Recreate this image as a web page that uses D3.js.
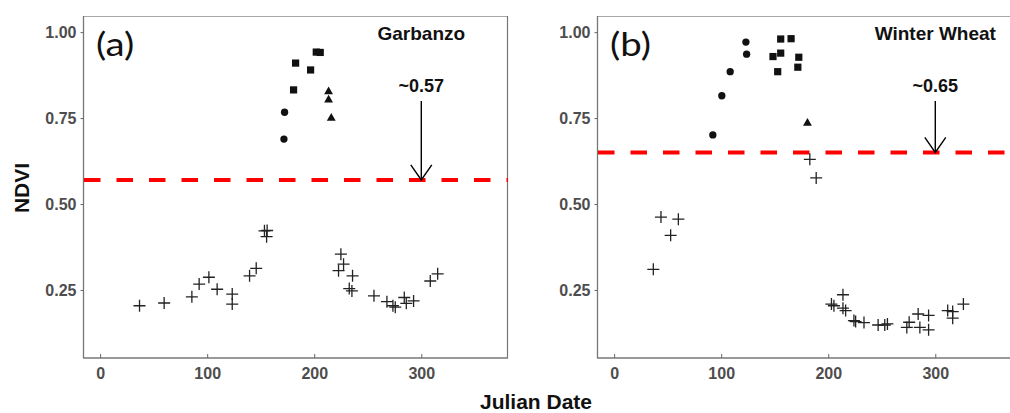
<!DOCTYPE html>
<html>
<head>
<meta charset="utf-8">
<script src="https://cdn.jsdelivr.net/npm/d3@7"></script>
<style>
  html, body { margin: 0; padding: 0; background: #fff; }
  svg { display: block; }
</style>
</head>
<body>
<svg id="chart" width="1010" height="413"></svg>
<script>
// Julian date / NDVI pairs for each growth stage group

// Garbanzo
const garbanzoEarly = [[172.3, 0.767], [171.7, 0.689]];
const garbanzoPeak = [[180.7, 0.832], [182.6, 0.910], [196.6, 0.890], [201.9, 0.942], [205.6, 0.941]];
const garbanzoLate = [[213.4, 0.827], [213.4, 0.803], [215.9, 0.750]];
const garbanzoOff = [
  [36.8, 0.204], [59.8, 0.212], [85.7, 0.230], [92.5, 0.267], [101.6, 0.287], [109.3, 0.252],
  [123.4, 0.238], [123.4, 0.209], [139.6, 0.291], [145.8, 0.313], [153.5, 0.422], [156.0, 0.423],
  [155.5, 0.405], [224.9, 0.354], [222.7, 0.306], [227.4, 0.325], [235.8, 0.291], [232.7, 0.254],
  [235.2, 0.247], [255.8, 0.233], [267.9, 0.216], [273.5, 0.204], [275.7, 0.200], [284.1, 0.228],
  [286.0, 0.211], [292.8, 0.218], [308.4, 0.276], [315.3, 0.297]
];

// Winter wheat
const wheatEarly = [[92.2, 0.701], [100.6, 0.815], [108.4, 0.885], [123.1, 0.971], [123.75, 0.936]];
const wheatPeak = [[148.4, 0.929], [152.8, 0.885], [155.6, 0.939], [155.6, 0.980], [165.3, 0.981], [172.5, 0.927], [171.6, 0.898]];
const wheatLate = [[180.6, 0.735]];
const wheatOff = [
  [182.8, 0.630], [188.75, 0.576], [36.6, 0.310], [43.75, 0.462], [52.8, 0.409], [60.0, 0.456],
  [203.0, 0.209], [205.3, 0.204], [213.75, 0.236], [213.75, 0.197], [216.25, 0.190], [224.0, 0.161],
  [225.6, 0.158], [233.4, 0.155], [246.6, 0.148], [252.8, 0.148], [255.3, 0.151], [273.4, 0.141],
  [275.6, 0.156], [284.0, 0.180], [285.6, 0.141], [293.75, 0.176], [293.75, 0.134], [311.6, 0.190],
  [316.25, 0.187], [316.25, 0.168], [326.25, 0.209]
];

const thresholds = [0.57, 0.65];
const thresholdLabels = ["~0.57", "~0.65"];
const panelTitles = ["Garbanzo", "Winter Wheat"];
const panelTags = ["(a)", "(b)"];
const xTicks = [0, 100, 200, 300];
const yTicks = [0.25, 0.50, 0.75, 1.00];

const panels = [
  { title: panelTitles[0], tag: panelTags[0], threshold: thresholds[0], label: thresholdLabels[0],
    early: garbanzoEarly, peak: garbanzoPeak, late: garbanzoLate, off: garbanzoOff, left: 83, right: 508 },
  { title: panelTitles[1], tag: panelTags[1], threshold: thresholds[1], label: thresholdLabels[1],
    early: wheatEarly, peak: wheatPeak, late: wheatLate, off: wheatOff, left: 597, right: 1022 }
];

const svg = d3.select("#chart");
const plotTop = 16, plotBottom = 358;
const y = d3.scaleLinear().domain([0.052, 1.047]).range([plotBottom, plotTop]);
const sans = "'Liberation Sans', Arial, sans-serif";
const markColor = "#111";

panels.forEach(p => {
  const x = d3.scaleLinear().domain([-16, 381]).range([p.left, p.right]);
  const g = svg.append("g");

  // panel frame
  g.append("line").attr("x1", p.left).attr("x2", p.right).attr("y1", plotTop + 0.5).attr("y2", plotTop + 0.5)
    .attr("stroke", "#a8a8a8").attr("stroke-width", 1.2);
  g.append("line").attr("x1", p.right - 0.5).attr("x2", p.right - 0.5).attr("y1", plotTop).attr("y2", plotBottom)
    .attr("stroke", "#777").attr("stroke-width", 1.2);
  g.append("line").attr("x1", p.left + 0.5).attr("x2", p.left + 0.5).attr("y1", plotTop).attr("y2", plotBottom)
    .attr("stroke", "#777").attr("stroke-width", 1.3);
  g.append("line").attr("x1", p.left).attr("x2", p.right).attr("y1", plotBottom).attr("y2", plotBottom)
    .attr("stroke", "#777").attr("stroke-width", 1.3);

  // y axis
  const yAxis = d3.axisLeft(y).tickValues(yTicks).tickFormat(d3.format(".2f")).tickSize(3).tickPadding(4);
  const ya = g.append("g").attr("transform", `translate(${p.left + 0.5},0)`).call(yAxis);
  ya.select(".domain").remove();
  ya.selectAll(".tick line").attr("stroke", "#666");
  ya.selectAll(".tick text").attr("fill", "#4d4d4d").attr("font-family", sans)
    .attr("font-weight", "bold").attr("font-size", 16);

  // x axis (ticks point into the panel)
  const xAxis = d3.axisBottom(x).tickValues(xTicks).tickFormat(d3.format("d")).tickSizeInner(-4).tickSizeOuter(0).tickPadding(10);
  const xa = g.append("g").attr("transform", `translate(0,${plotBottom})`).call(xAxis);
  xa.select(".domain").remove();
  xa.selectAll(".tick line").attr("stroke", "#666");
  xa.selectAll(".tick text").attr("fill", "#4d4d4d").attr("font-family", sans)
    .attr("font-weight", "bold").attr("font-size", 16);

  // threshold line
  g.append("line").attr("x1", p.left + 1).attr("x2", p.right).attr("y1", y(p.threshold)).attr("y2", y(p.threshold))
    .attr("stroke", "#ff0000").attr("stroke-width", 4).attr("stroke-dasharray", "16.5,16");

  // markers
  g.selectAll(".early").data(p.early).join("path")
    .attr("transform", d => `translate(${x(d[0])},${y(d[1])})`)
    .attr("d", d3.symbol(d3.symbolCircle, 42)).attr("fill", markColor);
  g.selectAll(".peak").data(p.peak).join("path")
    .attr("transform", d => `translate(${x(d[0])},${y(d[1])})`)
    .attr("d", d3.symbol(d3.symbolSquare, 52)).attr("fill", markColor);
  g.selectAll(".late").data(p.late).join("path")
    .attr("transform", d => `translate(${x(d[0])},${y(d[1])})`)
    .attr("d", d3.symbol(d3.symbolTriangle, 34)).attr("fill", markColor);
  g.selectAll(".off").data(p.off).join("path")
    .attr("transform", d => `translate(${x(d[0])},${y(d[1])})`)
    .attr("d", "M-6,0H6M0,-6V6").attr("stroke", "#222").attr("stroke-width", 1.3).attr("fill", "none");

  // arrow pointing at threshold
  const ax = x(300), ay0 = y(0.80), ay1 = y(p.threshold);
  g.append("line").attr("x1", ax).attr("x2", ax).attr("y1", ay0).attr("y2", ay1)
    .attr("stroke", "#000").attr("stroke-width", 1.4);
  g.append("path").attr("d", `M${ax - 10.5},${ay1 - 15}L${ax},${ay1}L${ax + 10.5},${ay1 - 15}`)
    .attr("stroke", "#000").attr("stroke-width", 1.4).attr("fill", "none");
  g.append("text").attr("x", ax).attr("y", y(0.826)).attr("text-anchor", "middle")
    .attr("font-family", sans).attr("font-weight", "bold").attr("font-size", 18).attr("fill", "#111")
    .text(p.label);

  // panel title and tag
  g.append("text").attr("x", x(300)).attr("y", 40).attr("text-anchor", "middle")
    .attr("font-family", sans).attr("font-weight", "bold").attr("font-size", 19).attr("fill", "#111")
    .text(p.title);
  g.append("text").attr("transform", `translate(${p.left + 13},56) scale(1.2,1)`)
    .attr("font-family", "Lato, 'Open Sans', sans-serif").attr("font-size", 32).attr("fill", "#111")
    .text(p.tag);
});

// shared axis titles
svg.append("text").attr("transform", "translate(29,188) rotate(-90)").attr("text-anchor", "middle")
  .attr("font-family", sans).attr("font-weight", "bold").attr("font-size", 21).attr("fill", "#111")
  .text("NDVI");
svg.append("text").attr("x", 536).attr("y", 409).attr("text-anchor", "middle")
  .attr("font-family", sans).attr("font-weight", "bold").attr("font-size", 21).attr("fill", "#111")
  .text("Julian Date");
</script>
</body>
</html>
